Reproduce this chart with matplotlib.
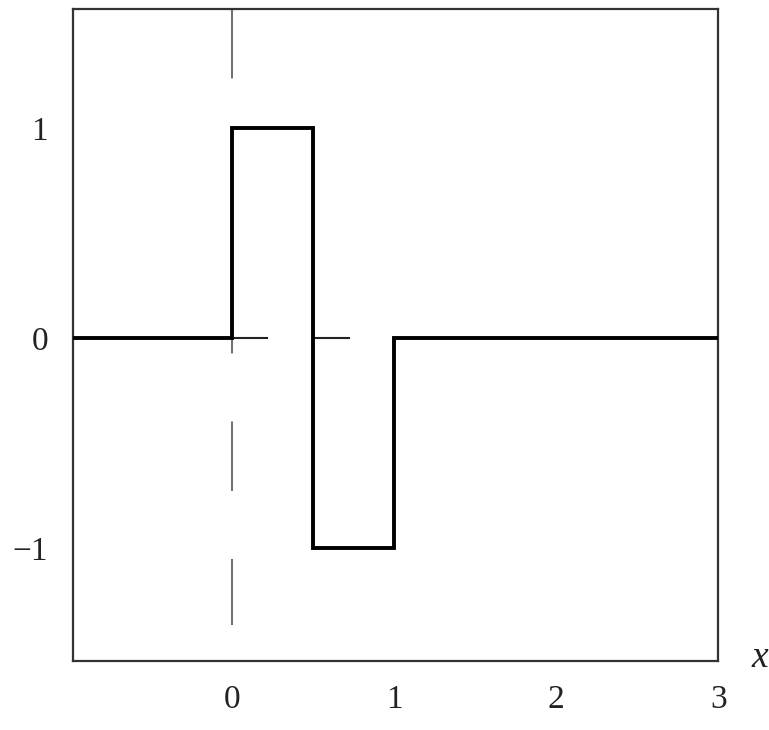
import matplotlib.pyplot as plt
import numpy as np

# Haar-type wavelet: piecewise constant levels between breakpoints
edges = [-1.0, 0.0, 0.5, 1.0, 3.0]
levels = [0, 1, -1, 0, 0]

x_ticks = [0, 1, 2, 3]
y_ticks = [-1, 0, 1]

plt.rcParams['font.family'] = ['Liberation Serif', 'DejaVu Serif']
plt.rcParams['lines.scale_dashes'] = False

fig = plt.figure(figsize=(7.69, 7.30), dpi=100)
ax = fig.add_axes([0.095, 0.0945, 0.839, 0.8935])

# dashed reference axes
ax.plot([0, 0], [1.57, -1.37], color='#555555', linewidth=1.2,
        linestyle=(0, (50, 49)), zorder=1)
ax.plot([0, 0.76], [0, 0], color='#222222', linewidth=1.5,
        linestyle=(0, (26, 33)), zorder=1)

# the signal itself
ax.step(edges, levels, where='post', color='black', linewidth=2.8, zorder=3,
        solid_joinstyle='miter')

ax.set_xlim(-0.98, 3.0)
ax.set_ylim(-1.54, 1.57)
ax.set_xticks(x_ticks)
ax.set_yticks(y_ticks)
ax.set_yticklabels(['\u22121', '0', '1'])
ax.tick_params(length=0, labelsize=24, colors='#222222')
ax.tick_params(axis='y', pad=18)
ax.tick_params(axis='x', pad=17)

for s in ax.spines.values():
    s.set_color('#333333')
    s.set_linewidth(1.6)

ax.text(1.065, 0.005, 'x', transform=ax.transAxes, fontsize=27, style='italic',
        ha='center', va='center', color='#222222')

fig.savefig('out.png', dpi=100)
